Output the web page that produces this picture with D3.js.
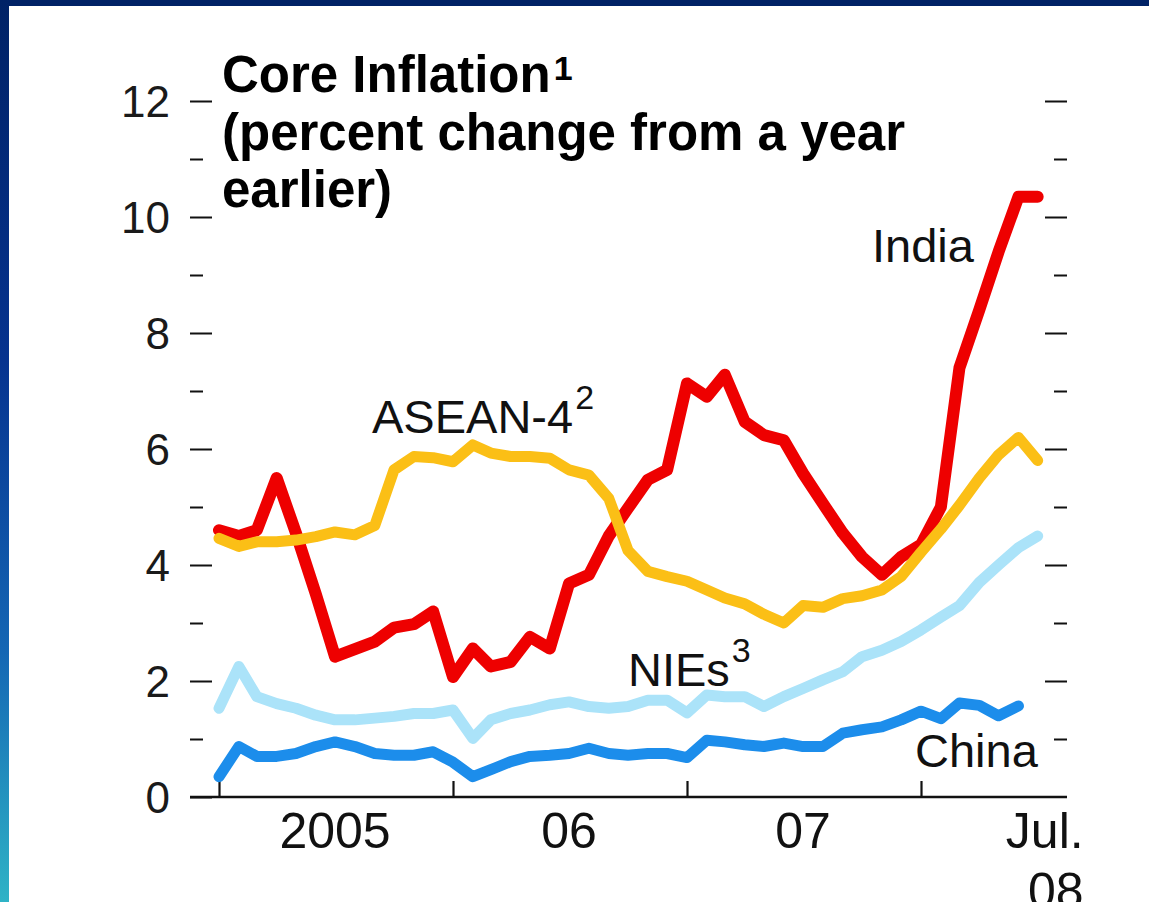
<!DOCTYPE html>
<html>
<head>
<meta charset="utf-8">
<script src="https://cdn.jsdelivr.net/npm/d3@7"></script>
<style>
  html, body { margin: 0; padding: 0; background: #fff; }
  svg { display: block; }
  text { font-family: "Liberation Sans", Arial, sans-serif; }
</style>
</head>
<body>
<svg id="chart" width="1149" height="902"></svg>
<script>
// Monthly core inflation, percent change from a year earlier (Jan 2005 – Jul 2008)
const startMonth = new Date(2005, 0, 1);
const endMonth = new Date(2008, 6, 1);

const india = [4.6, 4.5, 4.6, 5.5, 4.55, 3.5, 2.42, 2.55, 2.68, 2.92, 2.98, 3.2,
  2.07, 2.56, 2.25, 2.33, 2.76, 2.56, 3.68, 3.83, 4.5, 4.98, 5.47, 5.64,
  7.13, 6.9, 7.28, 6.47, 6.24, 6.15, 5.58, 5.06, 4.55, 4.14, 3.83, 4.14,
  4.35, 5.0, 7.4, 8.4, 9.4, 10.35, 10.35];

const asean4 = [4.46, 4.32, 4.4, 4.4, 4.43, 4.49, 4.57, 4.52, 4.68, 5.64, 5.87, 5.85,
  5.78, 6.07, 5.93, 5.87, 5.87, 5.84, 5.64, 5.55, 5.15, 4.25, 3.89, 3.8,
  3.72, 3.57, 3.43, 3.33, 3.15, 3.0, 3.3, 3.27, 3.42, 3.47, 3.57, 3.8,
  4.22, 4.62, 5.03, 5.5, 5.9, 6.2, 5.8];

const nies = [1.53, 2.25, 1.73, 1.61, 1.53, 1.41, 1.33, 1.33, 1.36, 1.39, 1.44, 1.44,
  1.5, 1.01, 1.33, 1.44, 1.5, 1.59, 1.64, 1.56, 1.53, 1.56, 1.67, 1.67,
  1.45, 1.76, 1.73, 1.73, 1.56, 1.73, 1.87, 2.02, 2.16, 2.42, 2.53, 2.68,
  2.88, 3.1, 3.3, 3.7, 4.0, 4.3, 4.5];

const china = [0.35, 0.87, 0.7, 0.7, 0.75, 0.87, 0.95, 0.87, 0.75, 0.72, 0.72, 0.78,
  0.6, 0.35, 0.47, 0.61, 0.7, 0.72, 0.75, 0.84, 0.75, 0.72, 0.75, 0.75,
  0.68, 0.98, 0.95, 0.9, 0.87, 0.93, 0.87, 0.87, 1.1, 1.16, 1.21, 1.33,
  1.48, 1.35, 1.62, 1.58, 1.4, 1.57];

const yMajorTicks = [0, 2, 4, 6, 8, 10, 12];
const yMinorTicks = [1, 3, 5, 7, 9, 11];
const yearTicks = [new Date(2005, 0, 1), new Date(2006, 0, 1), new Date(2007, 0, 1), new Date(2008, 0, 1)];
const yearLabels = ["2005", "06", "07"];
const lastLabel = ["Jul.", "08"];
const titleLines = ["Core Inflation", "(percent change from a year", "earlier)"];

const months = d3.timeMonth.range(startMonth, d3.timeMonth.offset(endMonth, 1));

const svg = d3.select("#chart");
const W = 1149, H = 902;

// frame: navy top band and a left band fading to teal
const defs = svg.append("defs");
const grad = defs.append("linearGradient").attr("id", "sideBand")
  .attr("x1", 0).attr("y1", 0).attr("x2", 0).attr("y2", 1);
grad.append("stop").attr("offset", "0%").attr("stop-color", "#002266");
grad.append("stop").attr("offset", "40%").attr("stop-color", "#06338f");
grad.append("stop").attr("offset", "72%").attr("stop-color", "#1466b4");
grad.append("stop").attr("offset", "100%").attr("stop-color", "#2fb3c6");

svg.append("rect").attr("width", W).attr("height", H).attr("fill", "#ffffff");
svg.append("rect").attr("x", 0).attr("y", 0).attr("width", W).attr("height", 6).attr("fill", "#002266");
svg.append("rect").attr("x", 0).attr("y", 0).attr("width", 9).attr("height", H).attr("fill", "url(#sideBand)");

// scales
const x = d3.scaleTime()
  .domain([new Date(2005, 0, 1), new Date(2008, 0, 1)])
  .range([219, 921]);
const y = d3.scaleLinear().domain([0, 12]).range([797, 101]);

const axisLeftEdge = 190, axisRightEdge = 1067;
const ink = "#111";

// left axis: long ticks with labels on even values, short ticks between
const leftMajor = svg.append("g").attr("transform", `translate(${axisLeftEdge + 22},0)`)
  .call(d3.axisLeft(y).tickValues(yMajorTicks).tickSize(22).tickPadding(20).tickFormat(d3.format("d")));
const leftMinor = svg.append("g").attr("transform", `translate(${axisLeftEdge + 13},0)`)
  .call(d3.axisLeft(y).tickValues(yMinorTicks).tickSize(13).tickFormat(""));
// right axis mirrors the ticks, no labels
const rightMajor = svg.append("g").attr("transform", `translate(${axisRightEdge - 22},0)`)
  .call(d3.axisRight(y).tickValues(yMajorTicks.filter(d => d > 0)).tickSize(22).tickFormat(""));
const rightMinor = svg.append("g").attr("transform", `translate(${axisRightEdge - 13},0)`)
  .call(d3.axisRight(y).tickValues(yMinorTicks).tickSize(13).tickFormat(""));

[leftMajor, leftMinor, rightMajor, rightMinor].forEach(g => {
  g.select(".domain").remove();
  g.selectAll(".tick line").attr("stroke", ink).attr("stroke-width", 2);
});
leftMajor.selectAll(".tick text")
  .attr("fill", "#1a1a1a")
  .style("font-size", "44px")
  .attr("dy", "0.36em");

// bottom axis: baseline plus upward year ticks
const bottom = svg.append("g").attr("transform", `translate(0,${y(0)})`)
  .call(d3.axisBottom(x).tickValues(yearTicks).tickSizeInner(-16).tickSizeOuter(0).tickFormat(""));
bottom.select(".domain").remove();
bottom.selectAll(".tick line").attr("stroke", ink).attr("stroke-width", 2.2);
svg.append("line")
  .attr("x1", axisLeftEdge).attr("x2", axisRightEdge)
  .attr("y1", y(0)).attr("y2", y(0))
  .attr("stroke", ink).attr("stroke-width", 2.5);

// year labels centred on each year
yearLabels.forEach((lab, k) => {
  svg.append("text")
    .attr("x", x(new Date(2005 + k, 6, 1)))
    .attr("y", y(0) + 51)
    .attr("text-anchor", "middle")
    .attr("fill", "#111")
    .style("font-size", "50px")
    .text(lab);
});
lastLabel.forEach((lab, k) => {
  svg.append("text")
    .attr("x", x(endMonth) + 46)
    .attr("y", y(0) + 51 + k * 60)
    .attr("text-anchor", "end")
    .attr("fill", "#111")
    .style("font-size", "50px")
    .text(lab);
});

// series lines
const series = [
  { name: "India", values: india, color: "#ee0000", width: 12 },
  { name: "ASEAN-4", values: asean4, color: "#fbbf16", width: 11 },
  { name: "NIEs", values: nies, color: "#abe3f9", width: 11 },
  { name: "China", values: china, color: "#1c8deb", width: 11 }
];

const line = d3.line()
  .x(d => x(d.date))
  .y(d => y(d.value))
  .curve(d3.curveLinear);

series.forEach(s => {
  const pts = s.values.map((v, i) => ({ date: months[i], value: v }));
  svg.append("path")
    .datum(pts)
    .attr("fill", "none")
    .attr("stroke", s.color)
    .attr("stroke-width", s.width)
    .attr("stroke-linejoin", "round")
    .attr("stroke-linecap", "round")
    .attr("d", line);
});

// series labels
function seriesLabel(txt, sup, px, py) {
  const t = svg.append("text")
    .attr("x", px).attr("y", py)
    .attr("fill", "#111")
    .style("font-size", "47px");
  t.append("tspan").text(txt);
  if (sup) {
    t.append("tspan").attr("dx", 2).attr("dy", -24).style("font-size", "34px").text(sup);
  }
}
seriesLabel("India", null, 872, 262);
seriesLabel("ASEAN-4", "2", 372, 433);
seriesLabel("NIEs", "3", 628, 686);
seriesLabel("China", null, 915, 767);

// title block
const title = svg.append("g").attr("fill", "#000").style("font-weight", "bold");
titleLines.forEach((ln, k) => {
  const t = title.append("text")
    .attr("x", 222)
    .attr("y", 92 + k * 57.5)
    .style("font-size", "51px")
    .text(ln);
  if (k === 0) {
    t.append("tspan").attr("dx", 3).attr("dy", -12).style("font-size", "34px").text("1");
  }
});
</script>
</body>
</html>
